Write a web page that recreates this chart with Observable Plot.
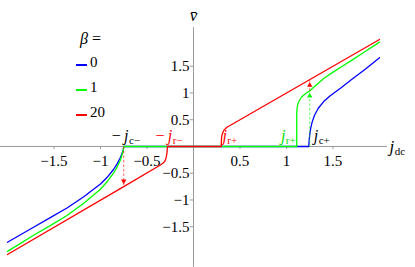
<!DOCTYPE html>
<html><head><meta charset="utf-8">
<script src="https://cdn.jsdelivr.net/npm/d3@7"></script>
<script src="https://cdn.jsdelivr.net/npm/@observablehq/plot@0.6"></script>
<style>
html,body{margin:0;padding:0;background:#fff;}
#wrap{position:relative;width:415px;height:267px;font-family:"Liberation Serif","Times New Roman",Times,serif;color:#000;}
#wrap svg{position:absolute;left:0;top:0;}
.leg{position:absolute;white-space:nowrap;line-height:1;font-family:"Liberation Serif","Times New Roman",Times,serif;}
.sw{position:absolute;height:1.6px;width:11px;}
</style></head><body><div id="wrap"></div>
<script>
// ---- data ----
const betaLabels = ["0", "1", "20"];
const jBlue  = [-2, -1.86, -1.72, -1.54, -1.36, -1.18, -1.0, -0.92, -0.86, -0.82, -0.79, -0.77, -0.755, -0.75,
                1.24, 1.243, 1.25, 1.26, 1.275, 1.30, 1.34, 1.40, 1.47, 1.58, 1.7, 1.85, 2];
const vBlue  = [-1.79, -1.65, -1.51, -1.33, -1.15, -0.94, -0.70, -0.56, -0.43, -0.32, -0.22, -0.14, -0.06, 0,
                0, 0.1, 0.22, 0.34, 0.45, 0.58, 0.71, 0.84, 0.95, 1.09, 1.25, 1.45, 1.66];
const jGreen = [-2, -1.86, -1.72, -1.54, -1.36, -1.18, -1.0, -0.92, -0.86, -0.82, -0.79, -0.77, -0.755, -0.75,
                1.11, 1.11, 1.113, 1.12, 1.135, 1.16, 1.2, 1.25, 1.32, 1.4, 1.5, 1.6, 1.7, 1.85, 2];
const vGreen = [-1.96, -1.81, -1.66, -1.48, -1.29, -1.06, -0.80, -0.64, -0.50, -0.38, -0.27, -0.17, -0.07, 0,
                0, 0.6, 0.7, 0.78, 0.85, 0.92, 0.98, 1.04, 1.15, 1.27, 1.39, 1.50, 1.61, 1.78, 1.95];
const jRed   = [-2, -0.75, -0.36, -0.33, -0.31, -0.295, -0.285, -0.28, 0.3, 0.3, 0.305, 0.315, 0.33, 0.36, 2];
const vRed   = [-2.02, -0.75, -0.35, -0.315, -0.28, -0.22, -0.12, 0, 0, 0.12, 0.2, 0.26, 0.31, 0.36, 2.0];
const xTicks = [-1.5, -1, -0.5, 0.5, 1, 1.5];
const yTicks = [-1.5, -1, -0.5, 0.5, 1, 1.5];
const xExtent = [-2.075, 2.086];
const yExtent = [-2.26, 2.22];
const thresholdNames = ["−j_c−", "−j_r−", "j_r+", "j_r+", "j_c+"];
const thresholdJ = [-0.75, -0.28, 0.30, 1.11, 1.25];
const thresholdBeta = ["", "20", "20", "1", ""];
const jumpJ    = [-0.75, 1.25, 1.25];
const jumpFrom = [0, 0, 1.04];
const jumpTo   = [-0.74, 1.04, 1.24];
const jumpBeta = ["20", "1", "20"];

// ---- styles ----
const FONT = '"Liberation Serif", "Times New Roman", Times, serif';
const seriesColors = ["#0000ff", "#00ff00", "#ff0000"];
const labelColors = {"": "#000", "1": "#00e000", "20": "#ff0000"};
const axisColor = "#9a9a9a";

const curves = [[jBlue, vBlue], [jGreen, vGreen], [jRed, vRed]]
  .flatMap(([js, vs], i) => js.map((j, k) => ({beta: betaLabels[i], j, v: vs[k]})));
const thresholds = thresholdNames.map((name, i) => ({name, j: thresholdJ[i], beta: thresholdBeta[i]}));
const jumps = jumpJ.map((j, i) => ({j, from: jumpFrom[i], to: jumpTo[i], beta: jumpBeta[i]}));
const fmt = d => (d < 0 ? "−" : "") + Math.abs(d);

const th = i => Plot.text([thresholds[i]], {x: "j", y: 0, text: "name", fill: d => labelColors[d.beta],
  lineAnchor: "bottom", dy: -5, fontSize: 16, fontFamily: FONT,
  textAnchor: i === 3 ? "end" : "start", dx: [-12, -12, 1, -1, 4][i]});

const chart = Plot.plot({
  width: 415, height: 267, margin: 0,
  x: {domain: xExtent, range: [0, 387], axis: null},
  y: {domain: yExtent, range: [266.9, 27.2], axis: null},
  color: {domain: betaLabels, range: seriesColors},
  style: {fontFamily: FONT, fontSize: "15px", background: "transparent", overflow: "visible"},
  marks: [
    Plot.ruleY([0], {x1: xExtent[0], x2: xExtent[1], stroke: axisColor, strokeWidth: 1}),
    Plot.ruleX([0], {y1: yExtent[0], y2: yExtent[1], stroke: axisColor, strokeWidth: 1}),
    Plot.ruleX(xTicks, {x: d => d, y1: 0, y2: -0.055, stroke: axisColor}),
    Plot.ruleY(yTicks, {y: d => d, x1: 0, x2: -0.035, stroke: axisColor}),
    Plot.text(xTicks, {x: d => d, y: 0, text: fmt, dy: 15, fontSize: 15, fontFamily: FONT}),
    Plot.text(yTicks, {x: 0, y: d => d, text: fmt, textAnchor: "end", dx: -4, fontSize: 15, fontFamily: FONT}),
    Plot.line(curves, {x: "j", y: "v", z: "beta", stroke: "beta", strokeWidth: 1.3, curve: "linear"}),
    Plot.link(jumps, {x1: "j", x2: "j", y1: "from", y2: "to", stroke: "beta", strokeWidth: 0.8, strokeDasharray: "2.5,2", strokeOpacity: 0.8}),
    Plot.dot(jumps.filter(d => d.to < d.from), {x: "j", y: "to", fill: "beta", symbol: "triangle", rotate: 180, r: 2, dy: -5}),
    Plot.dot(jumps.filter(d => d.to > d.from), {x: "j", y: "to", fill: "beta", symbol: "triangle", r: 2, dy: 5}),
    th(0), th(1), th(2), th(3), th(4),
    Plot.text(["v\u0304"], {x: 0, y: yExtent[1], text: d => d, lineAnchor: "bottom", dy: -7, fontSize: 17, fontStyle: "italic", fontFamily: FONT}),
    Plot.text(["j_dc"], {x: xExtent[1], y: 0, text: d => d, textAnchor: "start", lineAnchor: "bottom", dx: 2, dy: 6, fontSize: 17, fontFamily: FONT})
  ]
});

// subscripts: "pre j_sub"
d3.select(chart).selectAll("text").each(function () {
  const m = /^(−?)([a-z])_(.+)$/.exec(this.textContent);
  if (!m) return;
  const t = d3.select(this); t.text(null);
  if (m[1]) t.append("tspan").text(m[1] + "\u2009");
  t.append("tspan").attr("font-style", "italic").text(m[2]);
  t.append("tspan").attr("font-size", "11px").attr("dy", 3).attr("dx", 0.5).text(m[3]);
});

const wrap = document.getElementById("wrap");
wrap.appendChild(chart);

// legend
const leg = d3.select(wrap);
leg.append("div").attr("class", "leg").style("left", "80px").style("top", "31px").style("font-size", "16px")
  .html("<i>β</i> =");
betaLabels.forEach((b, i) => {
  const cy = 65 + i * 25;
  leg.append("div").attr("class", "sw").style("left", "76px").style("top", (cy - 0.8) + "px").style("background", seriesColors[i]);
  leg.append("div").attr("class", "leg").style("left", "90px").style("top", (cy - 10) + "px").style("font-size", "15px").text(b);
});
</script></body></html>
